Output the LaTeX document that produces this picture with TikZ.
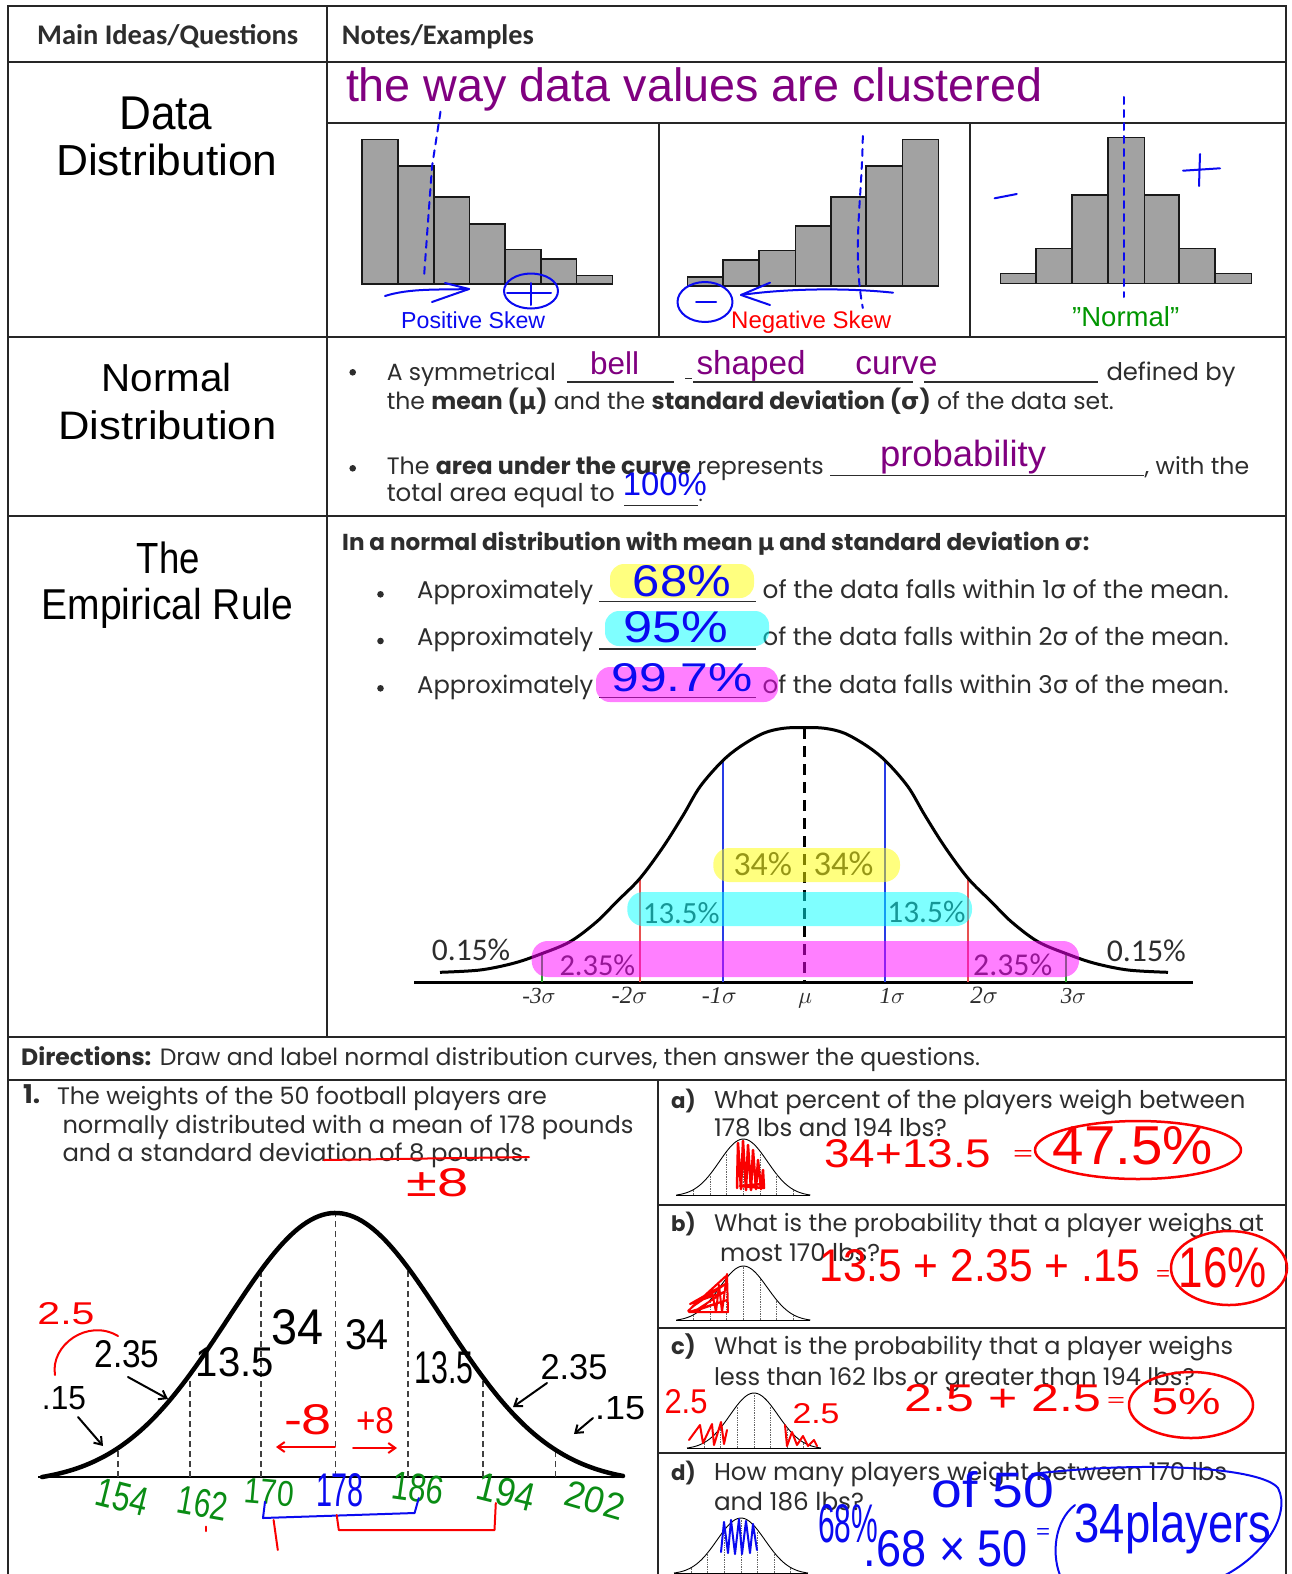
\documentclass[tikz,border=0pt]{standalone}
\usepackage{fontspec}
\usepackage{graphicx}
\setmainfont{Liberation Sans}
\newfontfamily\fpop{Poppins}
\newfontfamily\fcal{Carlito}
\newfontfamily\fdv{DejaVu Sans}
\newfontfamily\fser{Liberation Serif}
\usetikzlibrary{arrows.meta}
\newcommand\W[2]{\resizebox{#1pt}{!}{#2}}
\newcommand\WH[3]{\resizebox{#1pt}{#2pt}{#3}}
\newcommand\mus{{\fdv µ}}
\newcommand\sig{{\fdv σ}}
\definecolor{hpurple}{RGB}{128,0,128}
\definecolor{hblue}{RGB}{10,10,240}
\definecolor{hred}{RGB}{250,0,0}
\definecolor{hgreen}{RGB}{0,150,0}
\definecolor{qgreen}{RGB}{10,140,20}
\definecolor{barg}{RGB}{162,162,162}
\definecolor{ink}{RGB}{45,45,45}
\definecolor{lblue}{RGB}{40,60,230}
\definecolor{lred}{RGB}{232,80,80}
\definecolor{lgreen}{RGB}{40,160,40}
\definecolor{hly}{RGB}{255,255,0}
\definecolor{hlc}{RGB}{0,255,255}
\definecolor{hlm}{RGB}{255,0,255}
\newcommand\minibell[3]{%
 \draw[line width=0.9pt] plot[domain=-67:67,samples=60] ({#1+\x},{#2-#3*(exp(-(\x/24)*(\x/24)/2)-0.02)/0.98});
 \draw[line width=0.9pt] (#1-67,#2) -- (#1+67,#2);
 \foreach \k in {-3,...,3}{\draw[densely dotted,black!60,line width=0.7pt] ({#1+\k*16.6},#2) -- ({#1+\k*16.6},{#2-#3*(exp(-(\k*16.6/24)*(\k*16.6/24)/2)-0.02)/0.98});}
}
\begin{document}
\begin{tikzpicture}[x=1pt,y=-1pt,
  tbl/.style={line width=1.8pt,draw=black!85},
  lt/.style={anchor=base west,inner sep=0pt,text=ink,font=\fpop},
  ttl/.style={anchor=base,inner sep=0pt,text=black},
  cl/.style={anchor=base west,inner sep=0pt,text=ink,font=\fcal},
  hw/.style={inner sep=0pt,anchor=center},
  bar/.style={draw=black!90,line width=1.6pt,fill=barg},
  pen/.style={line width=2pt,line cap=round,line join=round},
  ul/.style={line width=1.3pt,draw=ink},
  hd/.style={pen,hblue,dash pattern=on 7pt off 6pt},
  harr/.style={pen,-{Straight Barb[length=7pt,width=10pt]}},
]
\useasboundingbox (0,0) rectangle (1291,1574);
\fill[white] (0,0) rectangle (1291,1574);

% ---------- table ----------
\draw[tbl] (8,1580) -- (8,6) -- (1286,6) -- (1286,1580);
\draw[tbl] (8,62) -- (1286,62);
\draw[tbl] (8,337) -- (1286,337);
\draw[tbl] (8,516) -- (1286,516);
\draw[tbl] (8,1037) -- (1286,1037);
\draw[tbl] (8,1080) -- (1286,1080);
\draw[tbl] (327,6) -- (327,1037);
\draw[tbl] (327,123) -- (1286,123);
\draw[tbl] (658.6,123) -- (658.6,337);
\draw[tbl] (970,123) -- (970,337);
\draw[tbl] (658,1080) -- (658,1580);
\draw[tbl] (658,1205) -- (1286,1205);
\draw[tbl] (658,1328) -- (1286,1328);
\draw[tbl] (658,1453) -- (1286,1453);

% ---------- headers ----------
\node[cl,font=\fcal\bfseries] (hA) at (37,44) {\W{261}{Main Ideas/Questions}};
\node[cl,font=\fcal\bfseries] (hB) at (341.7,44) {\W{192}{Notes/Examples}};

% ---------- titles ----------
\node[ttl] (t1) at (165.9,129.3) {\WH{93}{32.6}{Data}};
\node[ttl] (t2) at (166.8,175.7) {\WH{221.5}{31.5}{Distribution}};
\node[ttl] (t3) at (166.7,391.7) {\WH{130}{28.3}{Normal}};
\node[ttl] (t4) at (167.5,439.3) {\WH{218}{28.8}{Distribution}};
\node[ttl] (t5) at (168.3,573.3) {\WH{63}{31.6}{The}};
\node[ttl] (t6) at (167.5,619.3) {\WH{251.6}{31.3}{Empirical Rule}};

% ---------- data distribution ----------
\node[anchor=base west,inner sep=0pt,text=hpurple] (way) at (345.8,101.7) {\W{696}{the way data values are clustered}};
\foreach \a/\b/\t in {362/397.7/139.3,397.7/433.9/165.7,433.9/469.3/197,469.3/504.7/224,504.7/540.9/249.3,540.9/576.3/258.7,576.3/612.5/275.3}
  \draw[bar] (\a,284) rectangle (\b,\t);
\foreach \a/\b/\t in {687.5/722.9/276.7,722.9/759.1/260,759.1/795.3/250.3,795.3/830.7/225.7,830.7/866.1/197,866.1/902.4/165.7,902.4/938.6/139.3}
  \draw[bar] (\a,285.7) rectangle (\b,\t);
\foreach \a/\b/\t in {1000.3/1035.7/273.3,1035.7/1071.9/248.3,1071.9/1108.2/195,1108.2/1144.4/137.3,1144.4/1179/195,1179/1215.2/248.3,1215.2/1251.4/273.3}
  \draw[bar] (\a,283.3) rectangle (\b,\t);
\node[anchor=base west,inner sep=0pt,text=hblue] (ps) at (401,328.3) {\W{144}{Positive Skew}};
\node[anchor=base west,inner sep=0pt,text=red] (ns) at (731,328.3) {\W{160}{Negative Skew}};
\node[anchor=base west,inner sep=0pt,text=hgreen] (nm) at (1072,326) {\W{107}{"Normal"}};
% blue annotations
\draw[hd] (440.5,111.7) -- (432,166.7) -- (424,277);
\draw[pen,hblue] (385,296) .. controls (410,288) and (440,290) .. (469,289);
\draw[pen,hblue] (445,283) -- (469,289) -- (432,302);
\draw[pen,hblue] (531,291) ellipse (27 and 17.5);
\draw[pen,hblue] (507,293) -- (551,293) (531,283) -- (531,305);
\draw[hd] (862.8,136) .. controls (862,200) and (852,250) .. (862.8,308);
\draw[pen,hblue] (893,292.7) .. controls (850,288) and (790,288) .. (741,295);
\draw[pen,hblue] (770,282.7) -- (741,295) -- (770,305);
\draw[pen,hblue] (705,302) ellipse (27.5 and 20);
\draw[pen,hblue] (696,301.7) -- (716,301.7);
\draw[hd] (1123.8,97) -- (1123.8,297);
\draw[pen,hblue] (994.6,198.3) -- (1016.8,194);
\draw[pen,hblue] (1183,170.7) -- (1220,168.3) (1200,154) -- (1199,186);

% ---------- normal distribution ----------
\fill[ink] (352.7,372.3) circle (3.3);
\node[lt] (nd1) at (386.6,380) {\W{169}{A symmetrical}};
\draw[ul] (567,382) -- (674,382);
\draw[ul] (685.4,378.3) -- (691.6,378.3);
\draw[ul] (693,382) -- (913,382);
\draw[ul] (924,382) -- (1098,382);
\node[lt] (nd2) at (1106.3,380) {\W{129}{defined by}};
\node[lt] (nd3) at (386.6,409) {\W{727}{the \textbf{mean (\mus)} and the \textbf{standard deviation (\sig)} of the data set.}};
\fill[ink] (352.7,468.3) circle (3.3);
\node[lt] (nd4) at (386.6,474.3) {\W{437}{The \textbf{area under the curve} represents}};
\draw[ul] (830,475.5) -- (1144,475.5);
\node[lt] (nd5) at (1144.5,474.3) {\W{104.5}{, with the}};
\node[lt] (nd6) at (386.6,501.7) {\W{228}{total area equal to}};
\draw[ul] (624,505.5) -- (698,505.5);
\node[lt] (nd7) at (698.5,501.7) {\fontsize{20}{20}\selectfont .};
\node[anchor=base,inner sep=0pt,text=hpurple] (wbell) at (614.6,374.3) {\W{49}{bell}};
\node[anchor=base,inner sep=0pt,text=hpurple] (wshaped) at (751,374.3) {\W{109}{shaped}};
\node[anchor=base,inner sep=0pt,text=hpurple] (wcurve) at (896.4,374.3) {\W{82}{curve}};
\node[anchor=base,inner sep=0pt,text=hpurple] (wprob) at (963,466.7) {\W{166}{probability}};
\node[anchor=base,inner sep=0pt,text=hblue] (w100) at (664.8,495) {\W{84}{100\%}};

% ---------- empirical rule ----------
\node[lt] (e0) at (342,550) {\W{747}{\textbf{In a normal distribution with mean \mus{} and standard deviation \sig:}}};
\foreach \yb/\yu/\yc/\n in {598.3/601.7/594.3/1,645.7/649/641/2,693.3/697.7/688.3/3}{
  \fill[ink] (380.5,\yc) circle (3.3);
  \node[lt] (ea\n) at (417,\yb) {\W{176}{Approximately}};
  \draw[ul] (599,\yu) -- (756,\yu);
  \node[lt] (eb\n) at (762.5,\yb) {\W{466}{of the data falls within \n\sig{} of the mean.}};
}
\fill[hly,opacity=0.5,rounded corners=14pt] (610,564) rectangle (754,598);
\fill[hlc,opacity=0.5,rounded corners=14pt] (605,611) rectangle (769,646);
\fill[hlm,opacity=0.5,rounded corners=14pt] (596,667) rectangle (778,702);
\node[hw,text=hblue] (h68) at (682,581) {\WH{98}{31}{68\%}};
\node[hw,text=hblue] (h95) at (676,627) {\WH{105}{31}{95\%}};
\node[hw,text=hblue] (h997) at (682,678) {\WH{141}{28}{99.7\%}};

% chart
\draw[line width=3pt] (414,982) -- (1193,982);
\draw[lgreen,line width=1.8pt] (541.7,982) -- (541.7,954);
\draw[lgreen,line width=1.8pt] (1066,982) -- (1066,954);
\draw[lred,line width=1.8pt] (640,982) -- (640,878.3);
\draw[lred,line width=1.8pt] (968,982) -- (968,878.3);
\draw[lblue,line width=2.2pt] (722.7,982) -- (722.7,761.7);
\draw[lblue,line width=2.2pt] (885.3,982) -- (885.3,761.7);
\draw[line width=3pt,dash pattern=on 11pt off 7pt] (804,728) -- (804,982);
\draw[line width=3pt,line join=round] plot[smooth,tension=0.55] coordinates {(440,972.3) (480,970) (513.3,963.3) (540,954.3) (570,941.7) (596.7,921.7) (616.7,901.7) (640,878.3) (663.3,846.7) (683.3,815) (700,786.7) (721.7,761.7) (740,746.7) (763.3,733.3) (783.3,728.3) (804,727.5) (824.7,728.3) (844.7,733.3) (868,746.7) (886.3,761.7) (908,786.7) (924.7,815) (944.7,846.7) (968,878.3) (991.3,901.7) (1011.3,921.7) (1038,941.7) (1068,954.3) (1094.7,963.3) (1128,970) (1168,972.3)};
\node[cl] (p015a) at (431.7,960) {\W{78.3}{0.15\%}};
\node[cl] (p015b) at (1106.6,961.7) {\W{79}{0.15\%}};
\node[cl] (p34a) at (733.3,875) {\W{58.4}{34\%}};
\node[cl] (p34b) at (813.3,875) {\W{60}{34\%}};
\node[cl] (p135a) at (642.7,923.3) {\W{76.6}{13.5\%}};
\node[cl] (p135b) at (887.2,922.3) {\W{78}{13.5\%}};
\node[cl] (p235a) at (559.3,975) {\W{75.7}{2.35\%}};
\node[cl] (p235b) at (973,975) {\W{79}{2.35\%}};
\node[anchor=base,inner sep=0pt,text=ink] (s1) at (539,1003) {\W{33.2}{{\fser\itshape -3}$\sigma$}};
\node[anchor=base,inner sep=0pt,text=ink] (s2) at (629.5,1003) {\W{35.7}{{\fser\itshape -2}$\sigma$}};
\node[anchor=base,inner sep=0pt,text=ink] (s3) at (719.3,1003) {\W{34.7}{{\fser\itshape -1}$\sigma$}};
\node[anchor=base,inner sep=0pt,text=ink] (s4) at (805,1003) {\W{14}{$\mu$}};
\node[anchor=base,inner sep=0pt,text=ink] (s5) at (892.3,1003) {\W{25.4}{{\fser\itshape 1}$\sigma$}};
\node[anchor=base,inner sep=0pt,text=ink] (s6) at (984.2,1003) {\W{27.6}{{\fser\itshape 2}$\sigma$}};
\node[anchor=base,inner sep=0pt,text=ink] (s7) at (1073.4,1003) {\W{25.3}{{\fser\itshape 3}$\sigma$}};
\fill[hly,opacity=0.5,rounded corners=16pt] (713.3,848) rectangle (900,882);
\fill[hlc,opacity=0.5,rounded corners=16pt] (627.3,892) rectangle (972,926);
\fill[hlm,opacity=0.5,rounded corners=16pt] (531.7,941) rectangle (1079,977);

% ---------- directions ----------
\node[lt] (dir) at (21,1065) {\W{959}{\textbf{Directions:} Draw and label normal distribution curves, then answer the questions.}};

% ---------- question 1 ----------
\node[lt] (q1n) at (23,1103.3) {\W{17}{\textbf{1.}}};
\node[lt] (q1a) at (56.8,1104) {\W{490}{The weights of the 50 football players are}};
\node[lt] (q1b) at (62.3,1133.3) {\W{571}{normally distributed with a mean of 178 pounds}};
\node[lt] (q1c) at (62.3,1161) {\W{466}{and a standard deviation of 8 pounds.}};
\draw[pen,hred] (324,1160) -- (529,1157);
\draw[line width=2pt] (38,1477) -- (623,1477);
\foreach \p in {117.8,190.2,261,335.4,408.2,483.2,555.6}
  \draw[line width=1.6pt,black!75,dash pattern=on 6pt off 4pt] (\p,1477) -- (\p,{1477-264*(exp(-((\p-335.4)/108)*((\p-335.4)/108)/2)-0.025)/0.975});
\draw[line width=4.5pt,line cap=round] plot[domain=42:623,samples=150] (\x,{1477-264*(exp(-((\x-335.4)/108)*((\x-335.4)/108)/2)-0.025)/0.975});
\node[hw,text=hred] (pm8) at (438,1183) {\WH{62}{28}{±8}};
\node[hw,text=hred] (r25) at (66,1314) {\WH{57}{22}{2.5}};
\draw[pen,hred] (55,1375) .. controls (50,1345) and (88,1318) .. (118,1336);
\node[hw,text=black] (l235) at (127,1354) {\WH{65}{27}{2.35}};
\draw[harr] (128,1377) -- (168,1399);
\node[hw,text=black] (l15) at (64,1398) {\WH{44}{23}{.15}};
\draw[harr] (78,1417) -- (103,1446);
\node[hw,text=black] (l135) at (235,1362) {\WH{78}{29}{13.5}};
\node[hw,text=black] (l34) at (298,1327) {\WH{52}{35}{34}};
\node[hw,text=black] (r34) at (367,1335) {\WH{44}{30}{34}};
\node[hw,text=black] (r135) at (444,1368) {\WH{59}{32}{13.5}};
\node[hw,text=black] (r235) at (574,1367) {\WH{67}{25}{2.35}};
\draw[harr] (547,1383) -- (513,1407);
\node[hw,text=black] (r15) at (620,1408) {\WH{50}{23}{.15}};
\draw[harr] (593,1418) -- (574,1434);
\node[hw,text=hred] (m8) at (308,1420) {\WH{48}{30}{-8}};
\draw[harr,hred] (335,1447) -- (276,1447);
\node[hw,text=hred] (p8) at (375,1421) {\WH{38}{26}{+8}};
\draw[harr,hred] (353,1448) -- (397,1448);
\node[hw,text=qgreen,rotate=-14] (g154) at (122,1497) {\WH{52}{28}{154}};
\node[hw,text=qgreen,rotate=-10] (g162) at (203,1503) {\WH{50}{28}{162}};
\node[hw,text=qgreen,rotate=-5] (g170) at (269,1492) {\WH{50}{25}{170}};
\node[hw,text=hblue] (b178) at (340,1490) {\WH{48}{33}{178}};
\node[hw,text=qgreen,rotate=-8] (g186) at (418,1488) {\WH{52}{28}{186}};
\node[hw,text=qgreen,rotate=-14] (g194) at (506,1492) {\WH{58}{28}{194}};
\node[hw,text=qgreen,rotate=-16] (g202) at (595,1500) {\WH{60}{26}{202}};
\draw[pen,hblue] (265,1501.7) -- (263,1518) -- (414.6,1513) -- (418.8,1498);
\draw[pen,hred] (336.7,1515) -- (338.8,1530) -- (494.5,1530) -- (495.8,1503);
\draw[pen,hred] (273.6,1520) -- (277.8,1550);
\draw[pen,hred] (206,1526.7) -- (206,1531);

% ---------- question a ----------
\node[lt] (qa0) at (671,1108.3) {\W{24.6}{\textbf{a)}}};
\node[lt] (qa1) at (713.8,1108.3) {\W{531.4}{What percent of the players weigh between}};
\node[lt] (qa2) at (713.8,1136) {\W{233}{178 lbs and 194 lbs?}};
\minibell{743.4}{1195}{56}
\draw[pen,hred,line width=2.5pt] (737,1188) -- (738,1143) -- (741,1189) -- (743,1141) -- (746,1190) -- (748,1145) -- (751,1190) -- (753,1150) -- (756,1189) -- (758,1160) -- (761,1189) -- (763,1170) -- (764,1188) -- (740,1186) -- (762,1184);
\node[hw,text=hred] (aa1) at (908,1154) {\WH{167}{28}{34+13.5}};
\node[hw,text=hred] (aa2) at (1023,1155) {\WH{20}{10}{=}};
\node[hw,text=hred] (aa3) at (1133,1146) {\WH{160}{38}{47.5\%}};
\draw[pen,hred,line width=2.5pt] (1138,1150) ellipse (103 and 29);

% ---------- question b ----------
\node[lt] (qb0) at (671,1231.7) {\W{24.6}{\textbf{b)}}};
\node[lt] (qb1) at (713.8,1231.7) {\W{549.7}{What is the probability that a player weighs at}};
\node[lt] (qb2) at (720,1261.7) {\W{160}{most 170 lbs?}};
\minibell{743.4}{1320}{54}
\draw[pen,hred] (688,1311) -- (726,1276) -- (692,1307) -- (727,1283) -- (690,1304) -- (724,1292) -- (695,1311) -- (727,1300) -- (689,1312) -- (728,1312) -- (727,1274) -- (722,1312) -- (719,1285) -- (716,1312) -- (712,1292);
\node[hw,text=hred] (bb1) at (980,1266) {\WH{321}{32}{13.5 + 2.35 + .15}};
\node[hw,text=hred] (bb2) at (1163,1275) {\WH{14}{10}{=}};
\node[hw,text=hred] (bb3) at (1223,1268) {\WH{88}{40}{16\%}};
\draw[pen,hred,line width=2.5pt] (1229,1268) ellipse (58 and 37);

% ---------- question c ----------
\node[lt] (qc0) at (671,1354.3) {\W{24.6}{\textbf{c)}}};
\node[lt] (qc1) at (713.8,1354.3) {\W{519}{What is the probability that a player weighs}};
\node[lt] (qc2) at (713.8,1385) {\W{481}{less than 162 lbs or greater than 194 lbs?}};
\minibell{754}{1448}{55}
\draw[pen,hred] (689,1440) -- (700,1425) -- (703,1443) -- (712,1424) -- (714,1445) -- (721,1422) -- (724,1444) -- (727,1430);
\draw[pen,hred] (785,1425) -- (787,1446) -- (792,1432) -- (797,1445) -- (803,1436) -- (808,1446) -- (814,1440) -- (817,1446);
\node[hw,text=hred] (cc0) at (686,1402) {\WH{43}{24}{2.5}};
\node[hw,text=hred] (cc00) at (816,1414) {\WH{47}{20}{2.5}};
\node[hw,text=hred] (cc1) at (1003,1398) {\WH{196}{27}{2.5 + 2.5}};
\node[hw,text=hred] (cc2) at (1116,1402) {\WH{18}{9}{=}};
\node[hw,text=hred] (cc3) at (1186,1402) {\WH{69}{26}{5\%}};
\draw[pen,hred,line width=2.5pt] (1191,1405) ellipse (62 and 33);

% ---------- question d ----------
\node[lt] (qd0) at (671,1480) {\W{24.6}{\textbf{d)}}};
\node[lt] (qd1) at (713.8,1480) {\W{513}{How many players weight between 170 lbs}};
\node[lt] (qd2) at (713.8,1510) {\W{150}{and 186 lbs?}};
\minibell{741}{1573}{55}
\draw[pen,hblue] (721,1552) -- (724,1522) -- (728,1553) -- (731,1520) -- (735,1554) -- (739,1519) -- (742,1554) -- (746,1521) -- (750,1553) -- (753,1524) -- (757,1550);
\node[hw,text=hblue] (dd1) at (848,1524) {\WH{60}{38}{68\%}};
\node[hw,text=hblue] (dd2) at (993,1490) {\WH{123}{36}{of 50}};
\node[hw,text=hblue] (dd3) at (946,1549) {\WH{164}{36}{.68 × 50}};
\node[hw,text=hblue] (dd4) at (1043,1533) {\WH{14}{10}{=}};
\node[hw,text=hblue] (dd5) at (1173,1528) {\WH{197}{40}{34players}};
\draw[pen,hblue] (1032,1474) .. controls (1150,1460) and (1262,1468) .. (1278,1488) .. controls (1292,1515) and (1262,1560) .. (1215,1580);
\draw[pen,hblue] (1075,1505) .. controls (1055,1520) and (1050,1555) .. (1062,1580);
\end{tikzpicture}
\end{document}
